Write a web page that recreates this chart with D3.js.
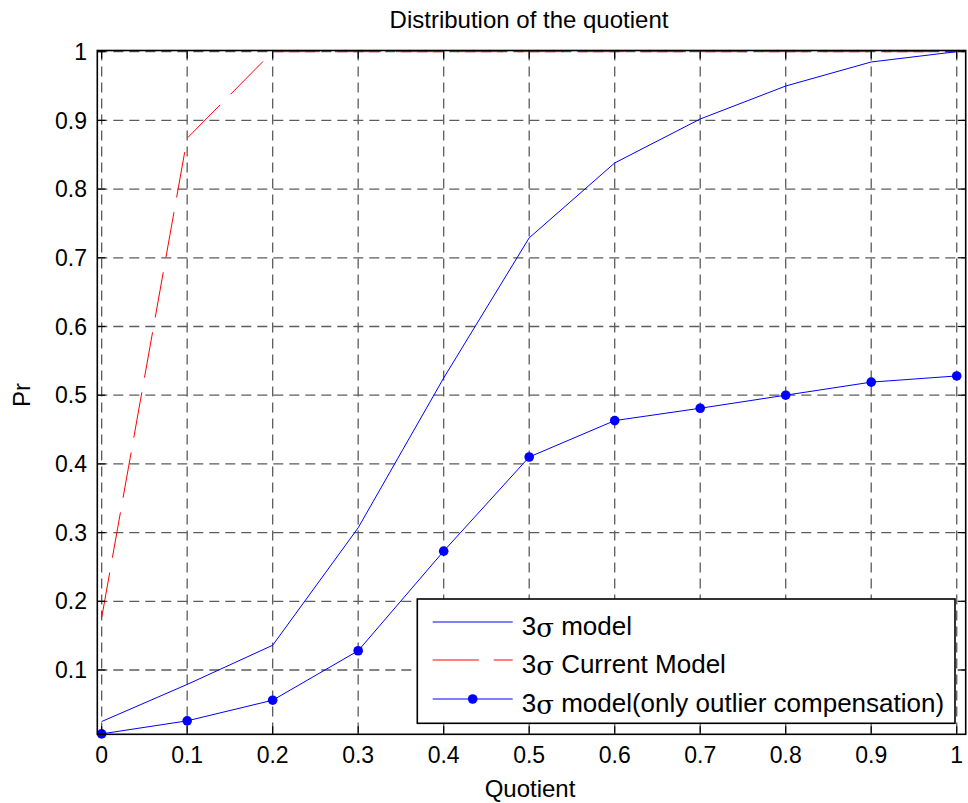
<!DOCTYPE html>
<html>
<head>
<meta charset="utf-8">
<script src="https://cdn.jsdelivr.net/npm/d3@7"></script>
<style>
  html, body { margin: 0; padding: 0; background: #fff; }
  svg { display: block; font-family: "Liberation Sans", Arial, sans-serif; }
</style>
</head>
<body>
<svg id="chart" width="968" height="803"></svg>
<script>
// Quotient levels on the x axis
const quotient = [0, 0.1, 0.2, 0.3, 0.4, 0.5, 0.6, 0.7, 0.8, 0.9, 1.0];
// Probability for each model
const sigmaModel = [0.025, 0.079, 0.136, 0.307, 0.525, 0.729, 0.838, 0.902, 0.950, 0.985, 1.0];
const currentModel = [0.176, 0.874, 1.0, 1.0, 1.0, 1.0, 1.0, 1.0, 1.0, 1.0, 1.0];
const outlierModel = [0.007, 0.026, 0.056, 0.128, 0.273, 0.410, 0.463, 0.481, 0.500, 0.519, 0.528];
// Tick labels
const xTicks = [0, 0.1, 0.2, 0.3, 0.4, 0.5, 0.6, 0.7, 0.8, 0.9, 1];
const yTicks = [0.1, 0.2, 0.3, 0.4, 0.5, 0.6, 0.7, 0.8, 0.9, 1];
const legendLabels = [" model", " Current Model", " model(only outlier compensation)"];

const svg = d3.select("#chart");
const box = { left: 97.3, right: 965.7, top: 50.5, bottom: 734.3 };

const x = d3.scaleLinear().domain([-0.0051, 1.0105]).range([box.left, box.right]);
const y = d3.scaleLinear().domain([0.0064, 1.0017]).range([box.bottom, box.top]);

const fmt = d => (d === 0 || d === 1) ? String(d) : d3.format(".1f")(d);

// Dashed grid
const grid = svg.append("g").attr("stroke", "#5c5c5c").attr("stroke-width", 1.3)
  .attr("stroke-dasharray", "10,6");
grid.selectAll("line.v").data(xTicks).join("line")
  .attr("x1", d => x(d)).attr("x2", d => x(d))
  .attr("y1", box.top).attr("y2", box.bottom);
grid.selectAll("line.h").data(yTicks).join("line")
  .attr("y1", d => y(d)).attr("y2", d => y(d))
  .attr("x1", box.left).attr("x2", box.right);

// Data lines
const line = d3.line().x((d, i) => x(quotient[i])).y(d => y(d));

svg.append("path").datum(currentModel)
  .attr("fill", "none").attr("stroke", "#ff0000").attr("stroke-width", 1)
  .attr("stroke-dasharray", "46,15").attr("d", line);

svg.append("path").datum(sigmaModel)
  .attr("fill", "none").attr("stroke", "#0000ff").attr("stroke-width", 1).attr("d", line);

svg.append("path").datum(outlierModel)
  .attr("fill", "none").attr("stroke", "#0000ff").attr("stroke-width", 1).attr("d", line);

svg.append("g").selectAll("circle").data(outlierModel).join("circle")
  .attr("cx", (d, i) => x(quotient[i])).attr("cy", d => y(d))
  .attr("r", 4.8).attr("fill", "#0000ff");

// Axes box (ticks point inward on all four sides)
const tickLen = 8;
const axisG = svg.append("g").attr("stroke", "#000");
axisG.append("rect")
  .attr("x", box.left).attr("y", box.top)
  .attr("width", box.right - box.left).attr("height", box.bottom - box.top)
  .attr("fill", "none").attr("stroke-width", 1.6);
xTicks.forEach(t => {
  axisG.append("line").attr("x1", x(t)).attr("x2", x(t))
    .attr("y1", box.bottom).attr("y2", box.bottom - tickLen).attr("stroke-width", 1.2);
  axisG.append("line").attr("x1", x(t)).attr("x2", x(t))
    .attr("y1", box.top).attr("y2", box.top + tickLen).attr("stroke-width", 1.2);
});
yTicks.forEach(t => {
  axisG.append("line").attr("y1", y(t)).attr("y2", y(t))
    .attr("x1", box.left).attr("x2", box.left + tickLen).attr("stroke-width", 1.2);
  axisG.append("line").attr("y1", y(t)).attr("y2", y(t))
    .attr("x1", box.right).attr("x2", box.right - tickLen).attr("stroke-width", 1.2);
});

// Tick labels
svg.append("g").selectAll("text").data(xTicks).join("text")
  .attr("x", d => x(d)).attr("y", 763)
  .attr("text-anchor", "middle").attr("font-size", 23).text(fmt);
svg.append("g").selectAll("text").data(yTicks).join("text")
  .attr("x", 87).attr("y", d => y(d) + 8.2)
  .attr("text-anchor", "end").attr("font-size", 23).text(fmt);

// Titles
svg.append("text").attr("x", 529).attr("y", 28).attr("text-anchor", "middle")
  .attr("font-size", 24).text("Distribution of the quotient");
svg.append("text").attr("x", 530).attr("y", 797).attr("text-anchor", "middle")
  .attr("font-size", 24).text("Quotient");
svg.append("text").attr("transform", "translate(30,395) rotate(-90)")
  .attr("text-anchor", "middle").attr("font-size", 24).text("Pr");

// Legend
const lg = svg.append("g");
lg.append("rect").attr("x", 417.3).attr("y", 599).attr("width", 955 - 417.3).attr("height", 723.3 - 599)
  .attr("fill", "#fff").attr("stroke", "#000").attr("stroke-width", 1.6);
const rows = [622, 660, 699];
const styles = [
  { color: "#0000ff", dash: null, marker: false },
  { color: "#ff0000", dash: "46,15", marker: false },
  { color: "#0000ff", dash: null, marker: true }
];
rows.forEach((ry, i) => {
  const s = styles[i];
  lg.append("line").attr("x1", 432.7).attr("x2", 512.7).attr("y1", ry).attr("y2", ry)
    .attr("stroke", s.color).attr("stroke-width", 1)
    .attr("stroke-dasharray", s.dash);
  if (s.marker) {
    lg.append("circle").attr("cx", 472.7).attr("cy", ry).attr("r", 4.8).attr("fill", s.color);
  }
  const t = lg.append("text").attr("x", 521.7).attr("y", ry + 12.5).attr("font-size", 26);
  t.append("tspan").text("3");
  t.append("tspan").attr("font-family", "DejaVu Serif, serif").attr("dy", 2).text("σ");
  t.append("tspan").attr("dy", -2).text(legendLabels[i]);
});
</script>
</body>
</html>
